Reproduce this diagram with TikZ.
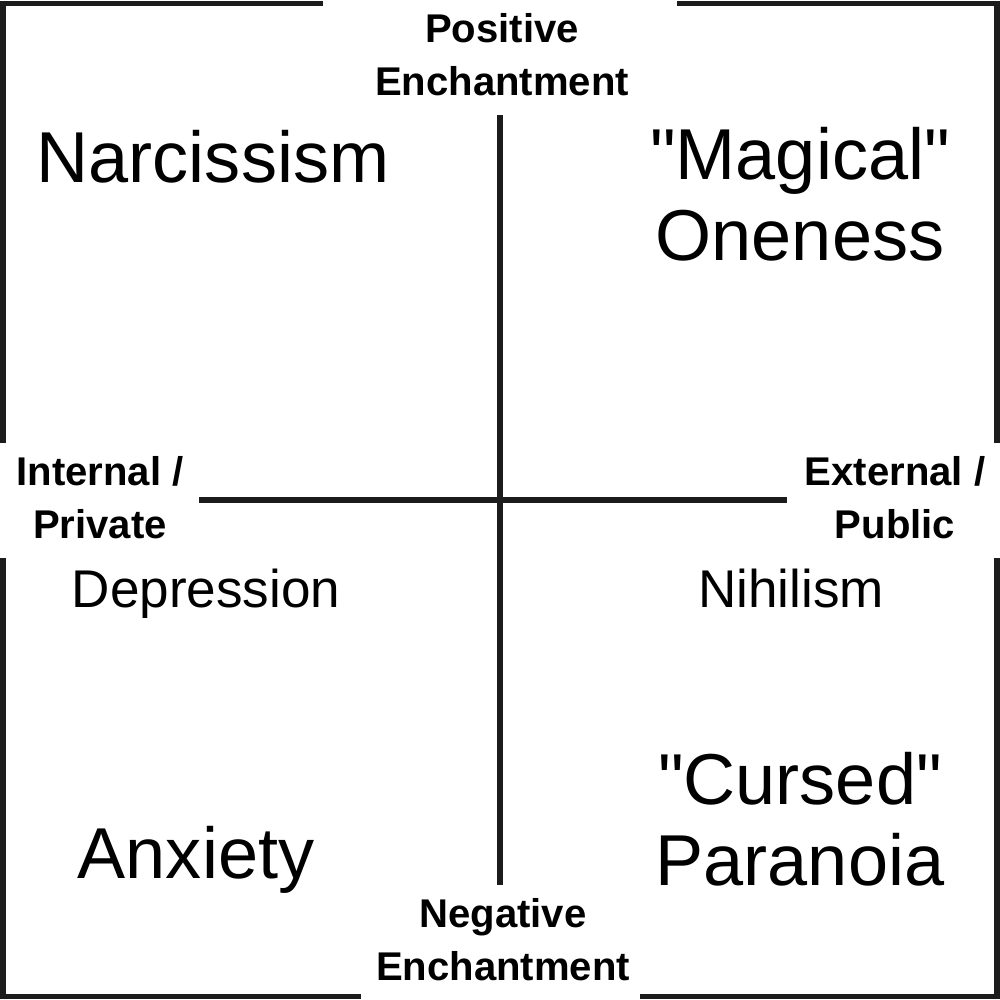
\documentclass[tikz,border=0pt]{standalone}
\usepackage{fontspec}
\setmainfont{Liberation Sans}
\begin{document}
\begin{tikzpicture}[x=0.01cm,y=-0.01cm,
  frameline/.style={line width=1.45pt,draw={rgb,255:red,28;green,28;blue,28}},
  axisline/.style={line width=1.7pt,draw={rgb,255:red,28;green,28;blue,28}},
  axislabel/.style={anchor=base,align=center,inner sep=0pt,font=\bfseries\fontsize{11.4pt}{15pt}\selectfont},
  bigword/.style={anchor=base,align=center,inner sep=0pt,font=\fontsize{20.5pt}{22.8pt}\selectfont},
  midword/.style={anchor=base,align=center,inner sep=0pt,font=\fontsize{15.1pt}{18pt}\selectfont}]
\useasboundingbox (0,0) rectangle (1000,1000);
% frame with gaps
\draw[frameline] (323,3.5) -- (3,3.5) -- (3,443);
\draw[frameline] (677,3.5) -- (997,3.5) -- (997,443);
\draw[frameline] (3,558) -- (3,996.5) -- (361,996.5);
\draw[frameline] (997,558) -- (997,996.5) -- (640,996.5);
% axes
\coordinate (vtop) at (500,115);
\coordinate (vbot) at (500,885);
\coordinate (hleft) at (199,500);
\coordinate (hright) at (787,500);
\draw[axisline] (vtop) -- (vbot);
\draw[axisline] (hleft) -- (hright);
% axis labels (anchor base = baseline of last line)
\node[axislabel] (pos) at (502,95) {Positive\\Enchantment};
\node[axislabel] (neg) at (503,980) {Negative\\Enchantment};
\node[axislabel] (int) at (100,538) {Internal /\\Private};
\node[axislabel] (ext) at (895,538) {External /\\Public};
% quadrant words
\node[bigword] (narc) at (213,182) {Narcissism};
\node[bigword] (magic) at (800,260) {\textquotedbl Magical\textquotedbl\\Oneness};
\node[midword] (dep) at (206,607) {Depression};
\node[midword] (nih) at (791,607) {Nihilism};
\node[bigword] (anx) at (196,878) {Anxiety};
\node[bigword] (curse) at (800,885) {\textquotedbl Cursed\textquotedbl\\Paranoia};
\end{tikzpicture}
\end{document}
